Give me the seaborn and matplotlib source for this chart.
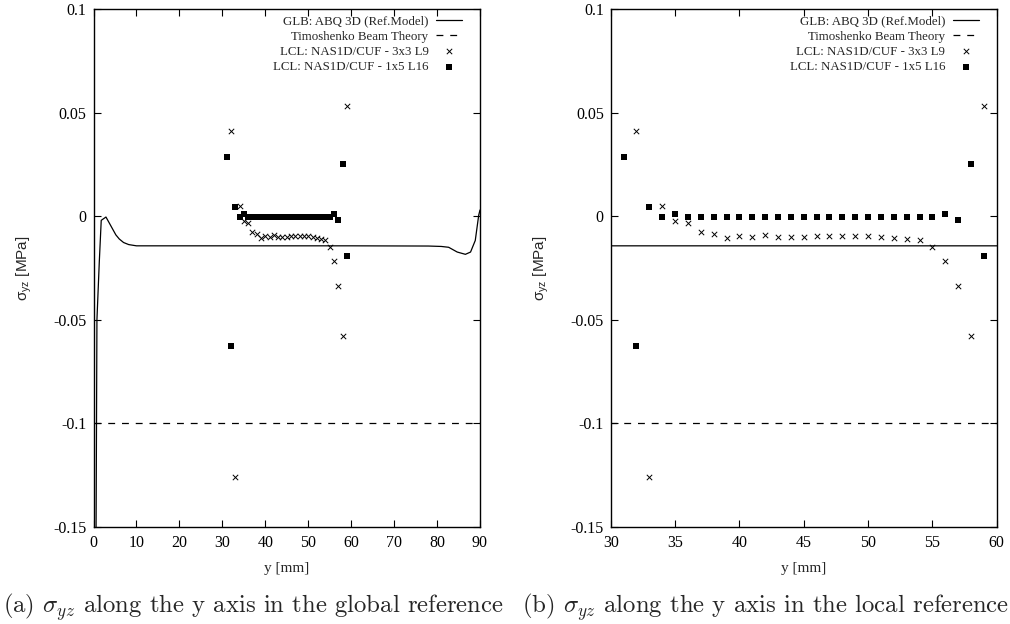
import numpy as np
import pandas as pd
import matplotlib
matplotlib.use("Agg")
import matplotlib.pyplot as plt
import seaborn as sns

# GLB: ABQ 3D reference curve
glb_x = [0.0, 0.6, 0.8, 1.35, 1.8, 2.9, 3.6, 4.4, 5.2, 6.0, 7.0, 8.2, 10, 20, 40, 60, 78, 81,
         82.7, 84.7, 86.6, 87.8, 88.9, 89.7, 90]
glb_y = [-0.22, -0.15, -0.05, -0.022, -0.002, -0.0004, -0.003, -0.006, -0.009, -0.011, -0.0127,
         -0.0137, -0.0143, -0.0143, -0.0143, -0.0143, -0.0144, -0.0146, -0.0150, -0.0173,
         -0.0184, -0.0173, -0.0117, 0.0005, 0.003]

# Timoshenko beam theory
timo_x = [0, 90]
timo_y = [-0.1, -0.1]

# LCL: NAS1D/CUF - 3x3 L9
l9_x = list(range(32, 60))
l9_y = [0.041, -0.126, 0.0048, -0.0023, -0.0033, -0.0074, -0.0085, -0.0104, -0.0097, -0.0100,
        -0.0092, -0.0098, -0.0098, -0.0098, -0.0096, -0.0096, -0.0096, -0.0096, -0.0096, -0.0102,
        -0.0104, -0.0110, -0.0116, -0.0150, -0.0216, -0.0335, -0.058, 0.053]

# LCL: NAS1D/CUF - 1x5 L16
l16_x = list(range(31, 60))
l16_y = [0.0285, -0.0625, 0.0045, -0.0003, 0.001, -0.0002, -0.0002, -0.0002, -0.0002, -0.0002,
         -0.0002, -0.0002, -0.0002, -0.0002, -0.0002, -0.0002, -0.0002, -0.0002, -0.0002, -0.0002,
         -0.0002, -0.0002, -0.0002, -0.0002, -0.0005, 0.001, -0.0018, 0.025, -0.019]

labels = ["GLB: ABQ 3D (Ref.Model)", "Timoshenko Beam Theory",
          "LCL: NAS1D/CUF - 3x3 L9", "LCL: NAS1D/CUF - 1x5 L16"]

yticks = [-0.15, -0.1, -0.05, 0, 0.05, 0.1]
ytick_labels = ["-0.15", "-0.1", "-0.05", "0", "0.05", "0.1"]
xticks_a = list(range(0, 91, 10))
xticks_b = list(range(30, 61, 5))

captions = [r"(a) $\sigma_{yz}$ along the y axis in the global reference",
            r"(b) $\sigma_{yz}$ along the y axis in the local reference"]

sns.set_style("ticks")
plt.rcParams["font.family"] = ["Liberation Serif", "DejaVu Serif"]
plt.rcParams["axes.linewidth"] = 1.0

fig = plt.figure(figsize=(10.1, 6.24), dpi=100)
W, H = 1010, 624
ax_a = fig.add_axes([93.5 / W, (H - 527) / H, 386.5 / W, 518 / H])
ax_b = fig.add_axes([610.7 / W, (H - 527) / H, 386 / W, 518 / H])

for ax, xt, xlim in [(ax_a, xticks_a, (0, 90)), (ax_b, xticks_b, (30, 60))]:
    sns.lineplot(x=glb_x, y=glb_y, ax=ax, color="black", lw=0.9, sort=False,
                 estimator=None, label=labels[0])
    sns.lineplot(x=timo_x, y=timo_y, ax=ax, color="black", lw=0.9,
                 linestyle=(0, (5.5, 5.5)), label=labels[1])
    sns.scatterplot(x=l9_x, y=l9_y, ax=ax, color="black", marker="x", s=15,
                    linewidth=0.7, label=labels[2], zorder=3)
    sns.scatterplot(x=l16_x, y=l16_y, ax=ax, color="black", marker="s", s=14,
                    linewidth=0, label=labels[3], zorder=3)
    ax.set_xlim(*xlim)
    ax.set_ylim(-0.15, 0.1)
    ax.set_xticks(xt, labels=[str(v) for v in xt])
    ax.set_yticks(yticks, labels=ytick_labels)
    ax.tick_params(direction="in", top=True, right=True, length=5, width=0.8,
                   labelsize=11.5, colors="black")
    ax.tick_params(axis="x", pad=6)
    ax.tick_params(axis="y", pad=5)
    for sp in ax.spines.values():
        sp.set_color("black")
        sp.set_linewidth(1.0)
    ax.set_xlabel("y [mm]", fontsize=11, labelpad=8)
    ax.set_ylabel(r"$\mathregular{\sigma_{yz}}$ [MPa]", fontsize=11,
                  family="Liberation Sans", labelpad=14)
    leg = ax.legend(loc="upper right", bbox_to_anchor=(368.5 / 386.5, 0.988),
                    frameon=False, markerfirst=False, fontsize=9.3, borderpad=0,
                    borderaxespad=0, labelspacing=0.25, handlelength=2.0,
                    handletextpad=0.6)
    for t in leg.get_texts():
        t.set_ha("right")

fig.text(253 / W, 17 / H, captions[0], ha="center", va="center", fontsize=17.8,
         family="cmr10", math_fontfamily="cm")
fig.text(766 / W, 17 / H, captions[1], ha="center", va="center", fontsize=17.8,
         family="cmr10", math_fontfamily="cm")

fig.savefig("out.png", dpi=100)
